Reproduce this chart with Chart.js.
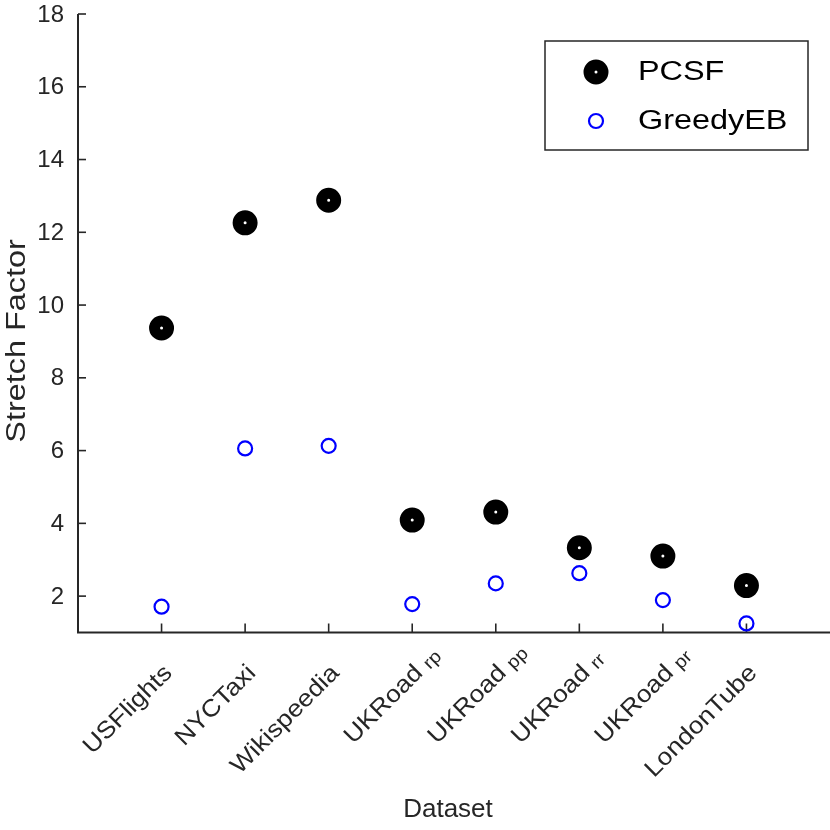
<!DOCTYPE html>
<html lang="en">
<head>
<meta charset="UTF-8">
<title>Stretch Factor per Dataset</title>
<script src="https://cdn.jsdelivr.net/npm/chart.js"></script>
<style>
  body { margin: 0; background: #fff; }
  #wrap { width: 830px; height: 830px; }
</style>
</head>
<body>
<div id="wrap"><canvas id="chart" width="830" height="830"></canvas></div>
<script>
// dataset names (main part + subscript)
const categories = ['USFlights', 'NYCTaxi', 'Wikispeedia', 'UKRoad', 'UKRoad', 'UKRoad', 'UKRoad', 'LondonTube'];
const subscripts = ['', '', '', 'rp', 'pp', 'rr', 'pr', ''];
const pcsf = [9.37, 12.26, 12.88, 4.09, 4.31, 3.33, 3.10, 2.29];
const greedyEB = [1.71, 6.06, 6.13, 1.78, 2.35, 2.63, 1.89, 1.25];
const yTicks = [2, 4, 6, 8, 10, 12, 14, 16, 18];

const FONT = '"Liberation Sans", Arial, Helvetica, sans-serif';
const AXIS = '#262626';

const toPoints = arr => arr.map((v, i) => ({ x: i + 1, y: v }));

// text stretched along its own direction (the reference glyphs run a bit wide)
function wideText(ctx, txt, x, y, rot, size, sx, align) {
  ctx.save();
  ctx.translate(x, y);
  ctx.rotate(rot);
  ctx.scale(sx, 1);
  ctx.font = size + 'px ' + FONT;
  ctx.textAlign = align;
  ctx.textBaseline = 'middle';
  ctx.fillText(txt, 0, 0);
  ctx.restore();
}

// axes, ticks and labels drawn matlab-style (ticks pointing in)
const axesPlugin = {
  id: 'matlabAxes',
  beforeDatasetsDraw(chart) {
    const { ctx, chartArea: a, scales: { x, y } } = chart;
    ctx.save();
    ctx.strokeStyle = AXIS;
    ctx.lineWidth = 2;
    ctx.beginPath();
    ctx.moveTo(a.left, a.top);
    ctx.lineTo(a.left, a.bottom);
    ctx.lineTo(a.right, a.bottom);
    ctx.stroke();

    // y ticks
    ctx.lineWidth = 1.6;
    ctx.fillStyle = AXIS;
    ctx.font = '24px ' + FONT;
    ctx.textAlign = 'right';
    ctx.textBaseline = 'middle';
    yTicks.forEach(t => {
      const py = y.getPixelForValue(t);
      ctx.beginPath();
      ctx.moveTo(a.left, py);
      ctx.lineTo(a.left + 8, py);
      ctx.stroke();
      ctx.fillText(String(t), a.left - 14, py + 1);
    });

    // x ticks + rotated labels, subscript hangs past the anchor
    categories.forEach((c, i) => {
      const px = x.getPixelForValue(i + 1);
      ctx.beginPath();
      ctx.moveTo(px, a.bottom);
      ctx.lineTo(px, a.bottom - 9);
      ctx.stroke();

      ctx.save();
      ctx.translate(px + 7, a.bottom + 37);
      ctx.rotate(-Math.PI / 4);
      ctx.scale(1.1, 1);
      ctx.textBaseline = 'middle';
      ctx.textAlign = 'right';
      ctx.font = '24px ' + FONT;
      ctx.fillText(c, 0, 0);
      const sub = subscripts[i];
      if (sub) {
        const gap = ctx.measureText(' ').width;
        ctx.font = '18px ' + FONT;
        ctx.textAlign = 'left';
        ctx.fillText(sub, gap, 3);
      }
      ctx.restore();
    });

    // axis titles
    wideText(ctx, 'Dataset', 448, 810, 0, 26, 1, 'center');
    wideText(ctx, 'Stretch Factor', 18, 341, -Math.PI / 2, 27, 1.2, 'center');
    ctx.restore();
  },
  afterDraw(chart) {
    const { ctx } = chart;
    ctx.save();
    // legend box
    ctx.fillStyle = '#fff';
    ctx.fillRect(545, 41, 263, 109);
    ctx.strokeStyle = AXIS;
    ctx.lineWidth = 1.5;
    ctx.strokeRect(545, 41, 263, 109);

    const rows = [{ y: 72, ds: chart.data.datasets[0] }, { y: 121, ds: chart.data.datasets[1] }];
    rows.forEach(r => {
      ctx.beginPath();
      ctx.arc(596, r.y, r.ds.pointRadius, 0, Math.PI * 2);
      ctx.fillStyle = r.ds.pointBackgroundColor;
      ctx.fill();
      ctx.lineWidth = r.ds.pointBorderWidth;
      ctx.strokeStyle = r.ds.pointBorderColor;
      ctx.stroke();
      ctx.fillStyle = '#000';
      wideText(ctx, r.ds.label, 638, r.y + 1, 0, 27, 1.2, 'left');
    });
    ctx.restore();
  }
};

new Chart(document.getElementById('chart'), {
  type: 'scatter',
  data: {
    datasets: [
      {
        label: 'PCSF',
        data: toPoints(pcsf),
        pointRadius: 7,
        pointBorderWidth: 11,
        pointBorderColor: '#000',
        pointBackgroundColor: '#fff',
        pointHoverRadius: 7
      },
      {
        label: 'GreedyEB',
        data: toPoints(greedyEB),
        pointRadius: 7,
        pointBorderWidth: 2.2,
        pointBorderColor: '#0000ff',
        pointBackgroundColor: 'rgba(0,0,0,0)',
        pointHoverRadius: 7
      }
    ]
  },
  options: {
    responsive: false,
    devicePixelRatio: 1,
    animation: false,
    layout: { autoPadding: false, padding: { left: 78, top: 14, right: 0, bottom: 197.5 } },
    plugins: { legend: { display: false }, tooltip: { enabled: false } },
    scales: {
      x: { type: 'linear', min: 0, max: 9, display: false },
      y: { type: 'linear', min: 1, max: 18, display: false }
    }
  },
  plugins: [axesPlugin]
});
</script>
</body>
</html>
